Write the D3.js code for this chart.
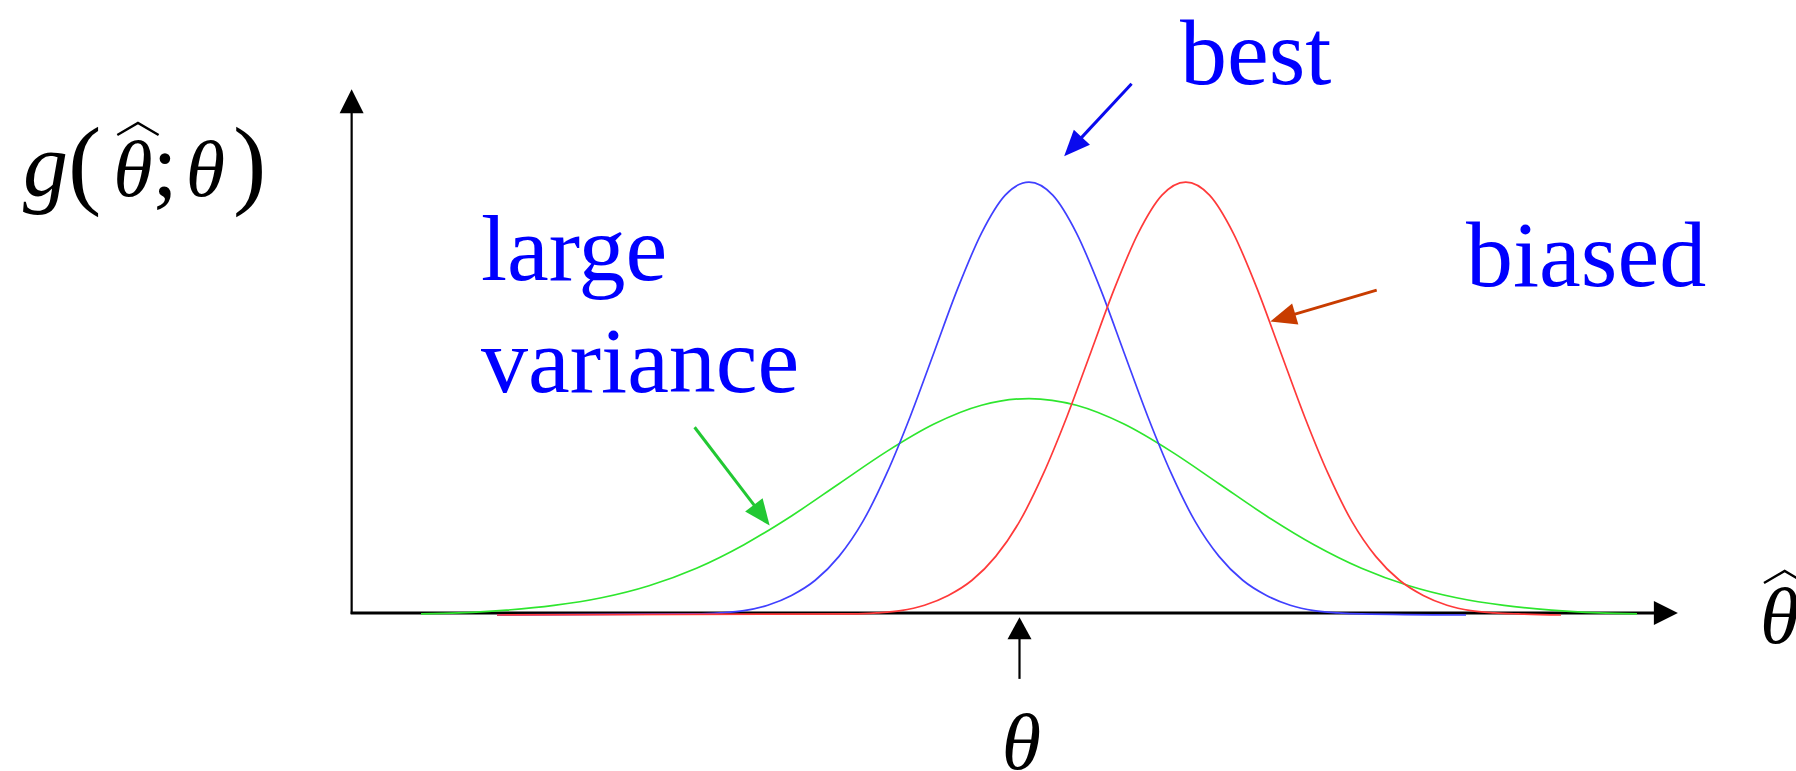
<!DOCTYPE html>
<html>
<head>
<meta charset="utf-8">
<script src="https://cdn.jsdelivr.net/npm/d3@7"></script>
<style>
  body { margin: 0; background: #fff; }
  svg { display: block; }
  .serif { font-family: "Liberation Serif", "DejaVu Serif", "Times New Roman", Times, serif; }
</style>
</head>
<body>
<div id="container"></div>
<script>
/* CONSTANTS AND GLOBALS */
const width = 1796,
  height = 771;

// theta-hat positions (theta = 0) and the density
const bestX = [-5.6, -3.5, -3.25, -3, -2.75, -2.5, -2.25, -2, -1.75, -1.5, -1.25, -1, -0.75, -0.5, -0.25, 0,
  0.25, 0.5, 0.75, 1, 1.25, 1.5, 1.75, 2, 2.25, 2.5, 2.75, 3, 3.25, 3.5, 4.6];
const bestY = [0, 0.001, 0.002, 0.004, 0.009, 0.018, 0.032, 0.054, 0.086, 0.130, 0.183, 0.242, 0.301, 0.352, 0.387, 0.399,
  0.387, 0.352, 0.301, 0.242, 0.183, 0.130, 0.086, 0.054, 0.032, 0.018, 0.009, 0.004, 0.002, 0.001, 0];

const biasedX = [-5.6, -1.85, -1.6, -1.35, -1.1, -0.85, -0.6, -0.35, -0.1, 0.15, 0.4, 0.65, 0.9, 1.15, 1.4, 1.65,
  1.9, 2.15, 2.4, 2.65, 2.9, 3.15, 3.4, 3.65, 3.9, 4.15, 4.4, 4.65, 4.9, 5.15, 5.6];
const biasedY = [0, 0.001, 0.002, 0.004, 0.009, 0.018, 0.032, 0.054, 0.086, 0.130, 0.183, 0.242, 0.301, 0.352, 0.387, 0.399,
  0.387, 0.352, 0.301, 0.242, 0.183, 0.130, 0.086, 0.054, 0.032, 0.018, 0.009, 0.004, 0.002, 0.001, 0];

const largeX = [-6.4, -6, -5.5, -5, -4.5, -4, -3.5, -3, -2.5, -2, -1.5, -1, -0.5, 0,
  0.5, 1, 1.5, 2, 2.5, 3, 3.5, 4, 4.5, 5, 5.5, 6, 6.4];
const largeY = [0.001, 0.002, 0.0045, 0.0088, 0.0159, 0.027, 0.0431, 0.0648, 0.0913, 0.121, 0.1506, 0.176, 0.1933, 0.1995,
  0.1933, 0.176, 0.1506, 0.121, 0.0913, 0.0648, 0.0431, 0.027, 0.0159, 0.0088, 0.0045, 0.002, 0.001];

// axes extent and the true theta, in the same units
const xAxisExtent = [-7.13, 6.83];
const yAxisTop = 0.485;
const trueTheta = -0.1;

// annotation arrows: [from, to] in data units
const arrows = [
  { name: "best", from: [1.08, 0.49], to: [0.37, 0.423], color: "#0a0aee" },
  { name: "biased", from: [3.66, 0.299], to: [2.54, 0.27], color: "#c83c00" },
  { name: "large variance", from: [-3.52, 0.172], to: [-2.73, 0.081], color: "#22c833" }
];

const labels = [
  { text: "best", x: 1180, y: 84 },
  { text: "large", x: 481, y: 280 },
  { text: "variance", x: 481, y: 392 },
  { text: "biased", x: 1466, y: 286 }
];

/* SCALES */
const xScale = d3.scaleLinear().domain([-7, 7]).range([364, 1694]);
const yScale = d3.scaleLinear().domain([0, 0.4]).range([613, 181]);
// curves sit a hair below the axis line
const curveY = d3.scaleLinear().domain([0, 0.4]).range([615, 181]);

const svg = d3.select("#container")
  .append("svg")
  .attr("width", width)
  .attr("height", height);

function arrow(g, x1, y1, x2, y2, color, sw, headLen, headHalf) {
  const a = Math.atan2(y2 - y1, x2 - x1);
  const bx = x2 - headLen * Math.cos(a), by = y2 - headLen * Math.sin(a);
  g.append("line")
    .attr("x1", x1).attr("y1", y1)
    .attr("x2", bx + 2 * Math.cos(a)).attr("y2", by + 2 * Math.sin(a))
    .attr("stroke", color).attr("stroke-width", sw);
  const nx = -Math.sin(a), ny = Math.cos(a);
  g.append("path")
    .attr("d", `M${x2},${y2}L${bx + nx * headHalf},${by + ny * headHalf}L${bx - nx * headHalf},${by - ny * headHalf}Z`)
    .attr("fill", color);
}

/* AXES */
const axes = svg.append("g");
arrow(axes, xScale(xAxisExtent[0]), yScale(0) + 1, xScale(xAxisExtent[0]), yScale(yAxisTop), "#000", 2.2, 24, 12);
arrow(axes, xScale(xAxisExtent[0]) - 1, yScale(0), xScale(xAxisExtent[1]), yScale(0), "#000", 3, 24, 12);
arrow(axes, xScale(trueTheta), yScale(-0.061), xScale(trueTheta), yScale(-0.004), "#000", 2.2, 22, 12);

/* CURVES */
const line = d3.line()
  .x(d => xScale(d[0]))
  .y(d => curveY(d[1]))
  .curve(d3.curveMonotoneX);

const curves = [
  { xs: largeX, ys: largeY, color: "#2ee62e" },
  { xs: bestX, ys: bestY, color: "#4040ff" },
  { xs: biasedX, ys: biasedY, color: "#ff3a3a" }
];

svg.append("g")
  .selectAll("path")
  .data(curves)
  .join("path")
  .attr("d", d => line(d.xs.map((x, i) => [x, d.ys[i]])))
  .attr("fill", "none")
  .attr("stroke", d => d.color)
  .attr("stroke-width", 1.7);

/* ANNOTATIONS */
const ann = svg.append("g");
arrows.forEach(d => {
  arrow(ann, xScale(d.from[0]), yScale(d.from[1]), xScale(d.to[0]), yScale(d.to[1]), d.color, 3, 26, 11);
});

svg.append("g")
  .selectAll("text")
  .data(labels)
  .join("text")
  .attr("class", "serif")
  .attr("x", d => d.x)
  .attr("y", d => d.y)
  .attr("font-size", 94)
  .attr("fill", "#0000ff")
  .text(d => d.text);

/* MATH LABELS */
function widehat(x0, x1, top) {
  const mid = (x0 + x1) / 2;
  svg.append("path")
    .attr("d", `M${x0},${top}L${mid},${top - 12}L${x1},${top}`)
    .attr("fill", "none")
    .attr("stroke", "#000")
    .attr("stroke-width", 2.4)
    .attr("stroke-linejoin", "miter");
}

// g(theta-hat; theta): [text, style, size, dx]
const gParts = [["g", "italic", 90, 0], ["(", "normal", 100, 0], ["θ", "italic", 80, 12],
  [";", "normal", 90, 0], ["θ", "italic", 80, 8], [")", "normal", 100, 8]];
const gLabel = svg.append("text")
  .attr("class", "serif")
  .attr("x", 23)
  .attr("y", 196);
gParts.forEach(([t, s, f, dx]) => gLabel.append("tspan")
  .attr("font-style", s).attr("font-size", f).attr("dx", dx).text(t));
{
  const e = gLabel.node().getExtentOfChar(2);
  widehat(e.x + 4, e.x + e.width + 6, 135);
}

// theta-hat on the x axis
const xLabel = svg.append("text")
  .attr("class", "serif")
  .attr("x", 1760)
  .attr("y", 643)
  .attr("font-style", "italic")
  .attr("font-size", 80)
  .text("θ");
{
  const e = xLabel.node().getExtentOfChar(0);
  widehat(e.x + 4, e.x + e.width + 6, 583);
}

// true theta under the axis
svg.append("text")
  .attr("class", "serif")
  .attr("x", xScale(trueTheta) + 2)
  .attr("y", 769)
  .attr("text-anchor", "middle")
  .attr("font-style", "italic")
  .attr("font-size", 80)
  .text("θ");
</script>
</body>
</html>
